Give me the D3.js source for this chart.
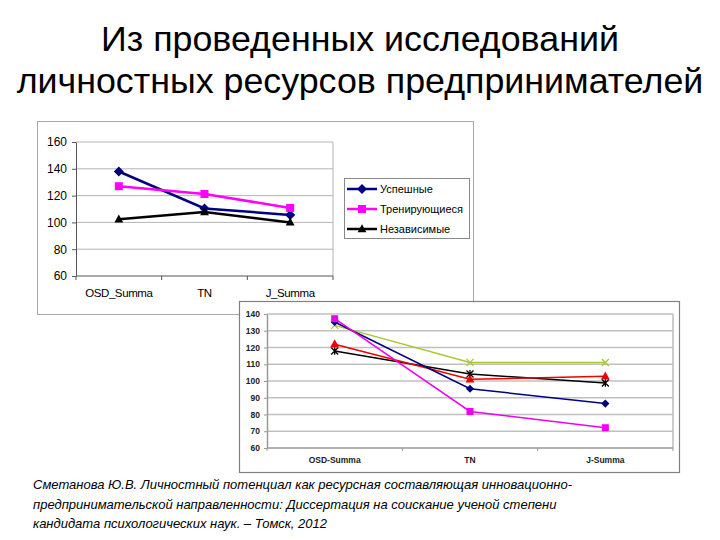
<!DOCTYPE html>
<html><head><meta charset="utf-8">
<script src="https://cdn.jsdelivr.net/npm/d3@7"></script>
<style>body{margin:0;background:#fff}svg{display:block}</style>
</head><body>
<script>
const titleLines = ["Из проведенных исследований", "личностных ресурсов предпринимателей"];
const citation = [
  "Сметанова Ю.В. Личностный потенциал как ресурсная составляющая инновационно-",
  "предпринимательской направленности: Диссертация на соискание ученой степени",
  "кандидата психологических наук. – Томск, 2012"
];

const cats1 = ["OSD_Summa", "TN", "J_Summa"];
const yTicks1 = [60, 80, 100, 120, 140, 160];
const seriesNames1 = ["Успешные", "Тренирующиеся", "Независимые"];
const uspeshnye1 = [138, 110.4, 105.6];
const treniruyushchiesya1 = [127, 121.2, 110.8];
const nezavisimye1 = [102.4, 107.8, 100];

const cats2 = ["OSD-Summa", "TN", "J-Summa"];
const yTicks2 = [60, 70, 80, 90, 100, 110, 120, 130, 140];
const navy2 = [135.2, 95.4, 86.5];
const magenta2 = [137.2, 81.8, 72.1];
const red2 = [122, 101, 102.8];
const green2 = [133.2, 111.1, 111];
const black2 = [117.9, 104.2, 98.8];

const W = 720, H = 540;
const svg = d3.select("body").append("svg").attr("width", W).attr("height", H);

// Title
svg.append("g").selectAll("text").data(titleLines).join("text")
  .attr("x", 360).attr("y", (d, i) => 51 + i * 42)
  .attr("text-anchor", "middle")
  .attr("font-family", "Liberation Sans, Arial, sans-serif")
  .attr("font-size", 35.8).attr("fill", "#000").text(d => d);

function marker(g, type, x, y, color, s) {
  if (type === "diamond") {
    g.append("path").attr("d", d3.symbol(d3.symbolDiamond2, s * s * 1.0)())
      .attr("transform", `translate(${x},${y})`).attr("fill", color);
  } else if (type === "square") {
    g.append("rect").attr("x", x - s / 2).attr("y", y - s / 2).attr("width", s).attr("height", s).attr("fill", color);
  } else if (type === "triangle") {
    g.append("path").attr("d", `M${x},${y - s * 0.6}L${x + s * 0.55},${y + s * 0.4}L${x - s * 0.55},${y + s * 0.4}Z`).attr("fill", color);
  } else if (type === "x") {
    const r = s / 2;
    g.append("path").attr("d", `M${x - r},${y - r}L${x + r},${y + r}M${x - r},${y + r}L${x + r},${y - r}`)
      .attr("stroke", color).attr("stroke-width", 1.3).attr("fill", "none");
  } else if (type === "star") {
    const r = s / 2;
    g.append("path").attr("d", `M${x - r},${y - r}L${x + r},${y + r}M${x - r},${y + r}L${x + r},${y - r}M${x},${y - r * 1.1}L${x},${y + r * 1.1}`)
      .attr("stroke", color).attr("stroke-width", 1.3).attr("fill", "none");
  }
}

// ---------- Chart 1 ----------
const g1 = svg.append("g");
g1.append("rect").attr("x", 37.5).attr("y", 121.5).attr("width", 436).attr("height", 193)
  .attr("fill", "#fff").attr("stroke", "#a8a8a8").attr("stroke-width", 1);

const x1 = d3.scaleBand().domain(cats1).range([76, 333]);
const y1 = d3.scaleLinear().domain([60, 160]).range([276, 142]);

g1.append("g").selectAll("line").data(yTicks1.filter(t => t > 60)).join("line")
  .attr("x1", 76).attr("x2", 333).attr("y1", d => y1(d)).attr("y2", d => y1(d))
  .attr("stroke", "#b4b4b4").attr("stroke-width", 1);
g1.append("line").attr("x1", 333).attr("x2", 333).attr("y1", 142).attr("y2", 276).attr("stroke", "#b4b4b4");

const ax1 = g1.append("g").attr("transform", "translate(76,0)")
  .call(d3.axisLeft(y1).tickValues(yTicks1).tickSize(4).tickSizeOuter(0));
ax1.select(".domain").attr("stroke", "#555");
ax1.selectAll(".tick line").attr("stroke", "#555");
ax1.selectAll("text").attr("font-family", "Liberation Sans, Arial, sans-serif").attr("font-size", 12).attr("fill", "#000").attr("dx", -2);

const bx1 = g1.append("g").attr("transform", "translate(0,276)");
bx1.append("line").attr("x1", 76).attr("x2", 333).attr("stroke", "#555");
bx1.selectAll("line.t").data(cats1.concat(["end"])).join("line").attr("class", "t")
  .attr("x1", (d, i) => i < 3 ? x1(d) : x1.range()[1]).attr("x2", (d, i) => i < 3 ? x1(d) : x1.range()[1])
  .attr("y1", 0).attr("y2", 4).attr("stroke", "#555");
bx1.selectAll("text").data(cats1).join("text")
  .attr("x", d => x1(d) + x1.bandwidth() / 2).attr("y", 21).attr("text-anchor", "middle")
  .attr("font-family", "Liberation Sans, Arial, sans-serif").attr("font-size", 11.5)
  .attr("letter-spacing", -0.4).attr("fill", "#000").text(d => d);

const s1 = [
  { name: seriesNames1[0], vals: uspeshnye1, color: "#000080", m: "diamond", ms: 8 },
  { name: seriesNames1[1], vals: treniruyushchiesya1, color: "#ff00ff", m: "square", ms: 8 },
  { name: seriesNames1[2], vals: nezavisimye1, color: "#000000", m: "triangle", ms: 8 }
];
const line1 = d3.line().x((d, i) => x1(cats1[i]) + x1.bandwidth() / 2).y(d => y1(d));
s1.forEach(s => {
  g1.append("path").attr("d", line1(s.vals)).attr("fill", "none").attr("stroke", s.color).attr("stroke-width", 2.5);
  s.vals.forEach((v, i) => marker(g1, s.m, x1(cats1[i]) + x1.bandwidth() / 2, y1(v), s.color, s.ms));
});

const lg = g1.append("g");
lg.append("rect").attr("x", 344.5).attr("y", 178.5).attr("width", 125).attr("height", 60)
  .attr("fill", "#fff").attr("stroke", "#888");
s1.forEach((s, i) => {
  const yy = 189 + i * 20;
  lg.append("line").attr("x1", 347).attr("x2", 377).attr("y1", yy).attr("y2", yy).attr("stroke", s.color).attr("stroke-width", 2.5);
  marker(lg, s.m, 362, yy, s.color, s.ms);
  lg.append("text").attr("x", 380).attr("y", yy + 4).attr("font-family", "Liberation Sans, Arial, sans-serif")
    .attr("font-size", 11).attr("fill", "#000").text(s.name);
});

// ---------- Chart 2 ----------
const g2 = svg.append("g");
g2.append("rect").attr("x", 239.5).attr("y", 301.5).attr("width", 440).attr("height", 171)
  .attr("fill", "#fff").attr("stroke", "#808080").attr("stroke-width", 1.2);

const x2 = d3.scaleBand().domain(cats2).range([267, 673]);
const y2 = d3.scaleLinear().domain([60, 140]).range([448, 314]);

g2.append("g").selectAll("line").data(yTicks2.filter(t => t > 60)).join("line")
  .attr("x1", 267).attr("x2", 673).attr("y1", d => y2(d)).attr("y2", d => y2(d))
  .attr("stroke", "#c0c0c0").attr("stroke-width", 1.6);
g2.append("line").attr("x1", 673).attr("x2", 673).attr("y1", 314).attr("y2", 448).attr("stroke", "#c0c0c0").attr("stroke-width", 1.6);

const ax2 = g2.append("g").attr("transform", "translate(267,0)")
  .call(d3.axisLeft(y2).tickValues(yTicks2).tickSize(3).tickSizeOuter(0));
ax2.select(".domain").attr("stroke", "#999").attr("stroke-width", 1.5);
ax2.selectAll(".tick line").attr("stroke", "#999");
ax2.selectAll("text").attr("font-family", "Liberation Sans, Arial, sans-serif").attr("font-size", 8.5)
  .attr("font-weight", "bold").attr("fill", "#222").attr("dx", -1);

const bx2 = g2.append("g").attr("transform", "translate(0,448)");
bx2.append("line").attr("x1", 267).attr("x2", 673).attr("stroke", "#999").attr("stroke-width", 1.5);
bx2.selectAll("line.t").data(cats2.concat(["end"])).join("line").attr("class", "t")
  .attr("x1", (d, i) => i < 3 ? x2(d) : x2.range()[1]).attr("x2", (d, i) => i < 3 ? x2(d) : x2.range()[1])
  .attr("y1", 0).attr("y2", 3).attr("stroke", "#999");
bx2.selectAll("text").data(cats2).join("text")
  .attr("x", d => x2(d) + x2.bandwidth() / 2).attr("y", 15).attr("text-anchor", "middle")
  .attr("font-family", "Liberation Sans, Arial, sans-serif").attr("font-size", 8.5).attr("font-weight", "bold")
  .attr("fill", "#222").text(d => d);

const s2 = [
  { vals: green2, color: "#a8c832", m: "x", ms: 7 },
  { vals: black2, color: "#000000", m: "star", ms: 7 },
  { vals: red2, color: "#ee0000", m: "triangle", ms: 8 },
  { vals: navy2, color: "#000080", m: "diamond", ms: 6.5 },
  { vals: magenta2, color: "#ee00ee", m: "square", ms: 7 }
];
const line2 = d3.line().x((d, i) => x2(cats2[i]) + x2.bandwidth() / 2).y(d => y2(d));
s2.forEach(s => {
  g2.append("path").attr("d", line2(s.vals)).attr("fill", "none").attr("stroke", s.color).attr("stroke-width", 1.5);
  s.vals.forEach((v, i) => marker(g2, s.m, x2(cats2[i]) + x2.bandwidth() / 2, y2(v), s.color, s.ms));
});

svg.append("g").selectAll("text").data(citation).join("text")
  .attr("x", 33).attr("y", (d, i) => 489 + i * 19.5)
  .attr("font-family", "Liberation Sans, Arial, sans-serif").attr("font-style", "italic")
  .attr("font-size", 13).attr("fill", "#000").text(d => d);
</script>
</body></html>
